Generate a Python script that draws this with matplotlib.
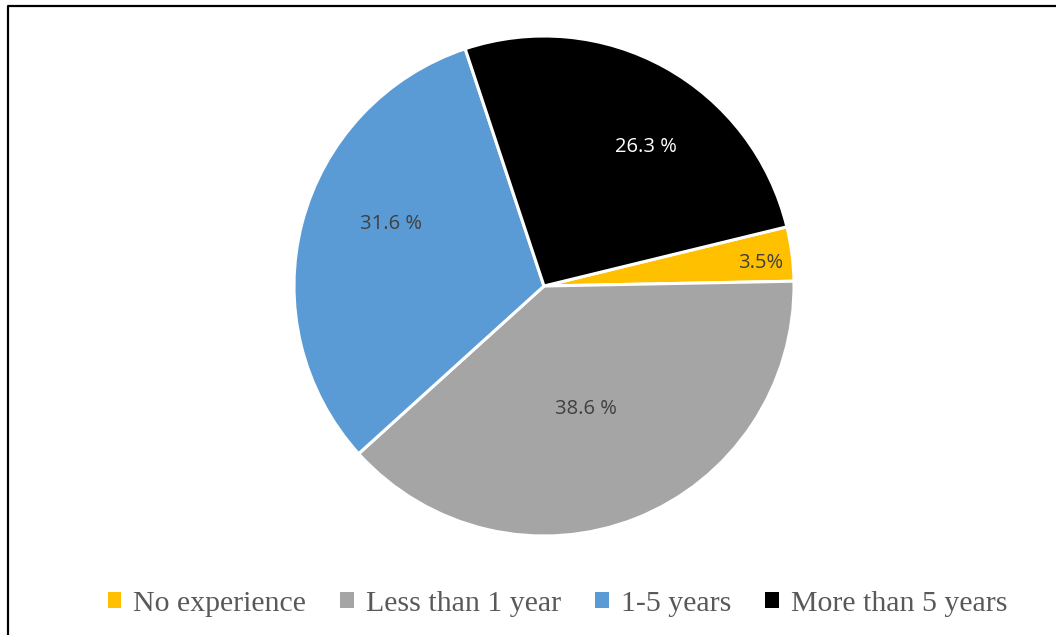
import matplotlib.pyplot as plt
from matplotlib.lines import Line2D
import numpy as np

# Years of experience breakdown
categories = ["No experience", "Less than 1 year", "1-5 years", "More than 5 years"]
shares = [3.5, 38.6, 31.6, 26.3]
pct_labels = ["3.5%", "38.6 %", "31.6 %", "26.3 %"]
colors = ["#FFC000", "#A5A5A5", "#5B9BD5", "#000000"]
label_colors = ["#404040", "#404040", "#404040", "#FFFFFF"]

fig = plt.figure(figsize=(10.56, 6.35), dpi=100)
ax = fig.add_axes([294 / 1056, 99 / 635, 500 / 1056, 500 / 635])

wedges, _ = ax.pie(shares, colors=colors, startangle=13.7, counterclock=False,
                   radius=1.0, wedgeprops=dict(edgecolor="white", linewidth=2.2))
ax.set_xlim(-1, 1)
ax.set_ylim(-1, 1)
ax.set_aspect("equal")

# percentage labels placed along each wedge's bisector
label_r = [0.87, 0.52, 0.66, 0.69]
label_shift = [-1.3, -3.0, -7.5, -7.2]
for w, txt, c, r, d in zip(wedges, pct_labels, label_colors, label_r, label_shift):
    ang = np.deg2rad((w.theta1 + w.theta2) / 2 + d)
    ax.text(r * np.cos(ang), r * np.sin(ang), txt, ha="center", va="center",
            fontsize=14.5, color=c, family="Open Sans")

leg = fig.legend(wedges, categories, loc="center", bbox_to_anchor=(0.528, 0.049),
                 ncol=4, frameon=False, handlelength=0.45, handleheight=0.45,
                 handletextpad=0.4, columnspacing=1.15,
                 prop=dict(family="Liberation Serif", size=21.5))
for t in leg.get_texts():
    t.set_color("#595959")
for h in leg.legend_handles:
    h.set_edgecolor("none")

# chart border
fig.add_artist(Line2D([7.5 / 1056, 7.5 / 1056, 1], [0, 1 - 5.5 / 635, 1 - 5.5 / 635],
                      transform=fig.transFigure, color="#000000", linewidth=1.6))

fig.savefig("out.png", dpi=100)
